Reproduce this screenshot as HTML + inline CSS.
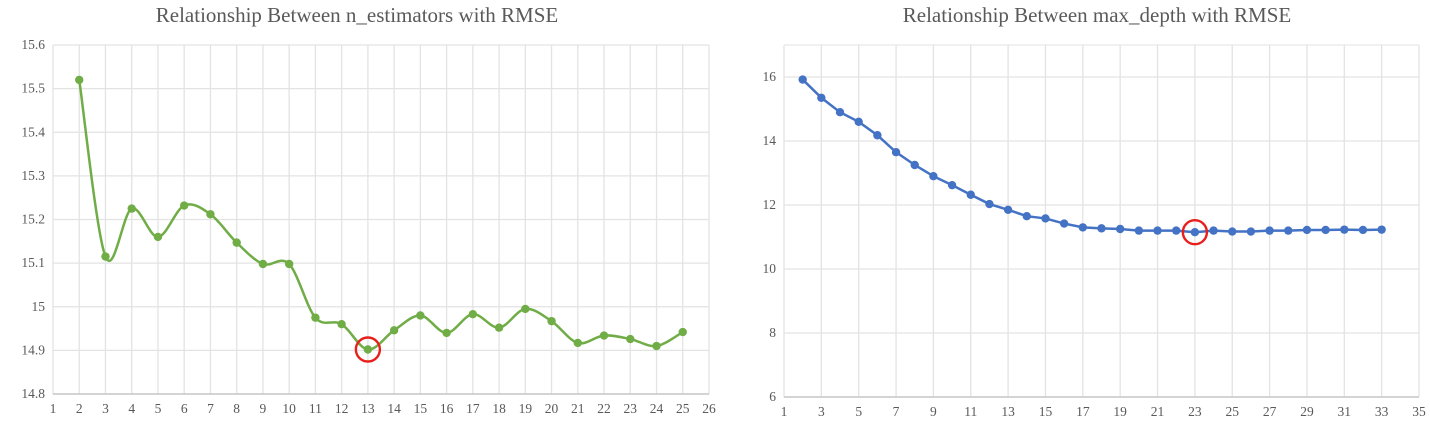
<!DOCTYPE html>
<html><head><meta charset="utf-8"><style>
body{margin:0;background:#fff;width:1430px;height:430px;overflow:hidden}
svg text{font-family:"Liberation Serif",serif;fill:#595959}
</style></head><body>
<svg id="s" width="1430" height="430"></svg>
<script>
const nEstX=[2,3,4,5,6,7,8,9,10,11,12,13,14,15,16,17,18,19,20,21,22,23,24,25];
const nEstY=[15.52,15.115,15.225,15.16,15.232,15.212,15.147,15.098,15.098,14.975,14.96,14.902,14.946,14.98,14.94,14.983,14.952,14.995,14.967,14.917,14.934,14.926,14.91,14.942];
const leftYTicks=[14.8,14.9,15,15.1,15.2,15.3,15.4,15.5,15.6];
const leftXTicks=[1,2,3,4,5,6,7,8,9,10,11,12,13,14,15,16,17,18,19,20,21,22,23,24,25,26];
const depthX=[2,3,4,5,6,7,8,9,10,11,12,13,14,15,16,17,18,19,20,21,22,23,24,25,26,27,28,29,30,31,32,33];
const depthY=[15.92,15.35,14.9,14.6,14.18,13.65,13.25,12.9,12.62,12.32,12.03,11.85,11.65,11.58,11.42,11.3,11.27,11.25,11.2,11.2,11.2,11.15,11.2,11.17,11.17,11.2,11.2,11.22,11.22,11.23,11.22,11.23];
const rightYTicks=[6,8,10,12,14,16];
const rightXTicks=[1,3,5,7,9,11,13,15,17,19,21,23,25,27,29,31,33,35];
const leftBest=13, rightBest=23;
const NS="http://www.w3.org/2000/svg", svg=document.getElementById('s');
function mk(t,a,p){const e=document.createElementNS(NS,t);for(const k in a)e.setAttribute(k,a[k]);(p||svg).appendChild(e);return e;}
function chart(o){
  const g=mk('g',{});
  
  
  const sx=v=>o.x0+(v-o.xmin)/(o.xmax-o.xmin)*(o.x1-o.x0);
  const sy=v=>o.y1-(v-o.ymin)/(o.ymax-o.ymin)*(o.y1-o.y0);
  const t=mk('text',{x:o.tx,y:22,'text-anchor':'middle','font-size':21},g);t.textContent=o.title;
  
  mk('line',{x1:o.x1,x2:o.x1,y1:o.y0,y2:o.y1,stroke:'#e3e3e3'},g);
  mk('line',{x1:o.x0,x2:o.x1,y1:o.y0,y2:o.y0,stroke:'#e3e3e3'},g);
  o.yt.forEach(v=>{const y=sy(v);
    mk('line',{x1:o.x0,x2:o.x1,y1:y,y2:y,stroke:'#e3e3e3','stroke-width':1.3},g);
    const l=mk('text',{x:o.x0-8,y:y+4,'text-anchor':'end','font-size':13.5},g);l.textContent=v;
    });
  o.xt.forEach(v=>{const x=sx(v);
    mk('line',{x1:x,x2:x,y1:o.y0,y2:o.y1,stroke:'#e3e3e3','stroke-width':1.3},g);
    const l=mk('text',{x:x,y:o.y1+19,'text-anchor':'middle','font-size':13.5},g);l.textContent=v;
    });
  mk('line',{x1:o.x0,x2:o.x1,y1:o.y1,y2:o.y1,stroke:'#bfbfbf','stroke-width':1.3},g);
  const P=o.xs.map((v,i)=>[sx(v),sy(o.ys[i])]);
  let d='M'+P[0][0]+','+P[0][1];
  for(let i=0;i<P.length-1;i++){
    if(o.smooth){const p0=P[Math.max(0,i-1)],p1=P[i],p2=P[i+1],p3=P[Math.min(P.length-1,i+2)],k=1/6;
      d+=` C${p1[0]+(p2[0]-p0[0])*k},${p1[1]+(p2[1]-p0[1])*k} ${p2[0]-(p3[0]-p1[0])*k},${p2[1]-(p3[1]-p1[1])*k} ${p2[0]},${p2[1]}`;}
    else d+=' L'+P[i+1][0]+','+P[i+1][1];
  }
  const line=mk('path',{d:d,fill:'none',stroke:o.color,'stroke-width':2.5},g);
  
  P.forEach(p=>{const c=mk('circle',{cx:p[0],cy:p[1],r:4.2,fill:o.color},g);
    });
  const bi=o.xs.indexOf(o.best);
  const rc=mk('circle',{cx:P[bi][0],cy:P[bi][1],r:12,fill:'none',stroke:'#e8201c','stroke-width':2.4},g);
  
}
chart({name:'n-estimators-chart',title:'Relationship Between n_estimators with RMSE',tx:357,x0:53,x1:709,y0:45,y1:394,xmin:1,xmax:26,ymin:14.8,ymax:15.6,xt:leftXTicks,yt:leftYTicks,xs:nEstX,ys:nEstY,color:'#70ad47',smooth:true,best:leftBest});
chart({name:'max-depth-chart',title:'Relationship Between max_depth  with RMSE',tx:1097,x0:784,x1:1419,y0:45,y1:397,xmin:1,xmax:35,ymin:6,ymax:17,xt:rightXTicks,yt:rightYTicks,xs:depthX,ys:depthY,color:'#4472c4',smooth:false,best:rightBest});
</script>
</body></html>
